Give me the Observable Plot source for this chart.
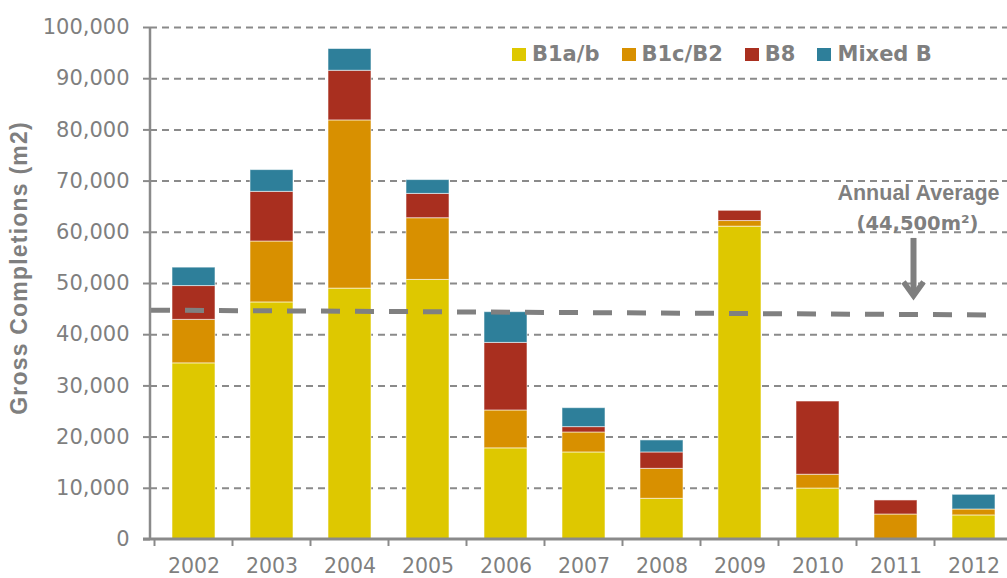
<!DOCTYPE html>
<html>
<head>
<meta charset="utf-8">
<script src="https://cdn.jsdelivr.net/npm/d3@7"></script>
<script src="https://cdn.jsdelivr.net/npm/@observablehq/plot@0.6"></script>
<style>
  body { margin: 0; background: #fff; }
  #wrap { position: relative; width: 1007px; height: 578px; overflow: hidden; background: #fff; }
  #wrap svg { position: absolute; left: 0; top: 0; }
  #legend { position: absolute; left: 512px; top: 42px; display: flex; align-items: center;
            font: bold 21px "DejaVu Sans", sans-serif; color: #7f7f7f; white-space: nowrap; }
  #legend .item { display: flex; align-items: center; margin-right: 22px; }
  #legend .sw { width: 14px; height: 13px; margin-right: 6px; display: inline-block; }
</style>
</head>
<body>
<div id="wrap"><div id="legend"></div></div>
<script>
// ---- data ----
const years = ["2002","2003","2004","2005","2006","2007","2008","2009","2010","2011","2012"];
const series = ["B1a/b", "B1c/B2", "B8", "Mixed B"];
const colors = ["#dec800", "#d89000", "#a92f1f", "#2e7f9a"];
const b1ab   = [34400, 46300, 49000, 50700, 17800, 17000, 7950, 61100,  9950,    0, 4700];
const b1cB2  = [ 8500, 11900, 32850, 12050,  7400,  3900, 5850,  1100,  2700, 4880, 1160];
const b8     = [ 6600,  9700,  9700,  4750, 13200,  1050, 3200,  2000, 14300, 2740,    0];
const mixedB = [ 3600,  4250,  4250,  2700,  6000,  3700, 2350,     0,     0,    0, 2870];
const yTicks = [0, 10000, 20000, 30000, 40000, 50000, 60000, 70000, 80000, 90000, 100000];
const yTitle = "Gross Completions (m2)";
const avgLabel = ["Annual Average", "(44,500m\u00B2)"];
const avgTrend = [44700, 43750];      // dashed average line: value at left edge, at right edge
const arrowVals = [58800, 47100];     // arrow from / to
const labelVals = [66200, 60350];     // label baselines

const valuesBySeries = [b1ab, b1cB2, b8, mixedB];
const data = [];
series.forEach((s, j) => years.forEach((yr, i) => data.push({year: yr, series: s, value: valuesBySeries[j][i]})));

const gray = "#7f7f7f";
const plot = Plot.plot({
  width: 1007, height: 578,
  marginLeft: 150, marginRight: 0, marginTop: 27, marginBottom: 39,
  style: {fontFamily: "DejaVu Sans, sans-serif", fontSize: "21px", color: gray, background: "transparent", overflow: "visible"},
  x: {domain: years, range: [151, 1015], paddingInner: 0.452, paddingOuter: 0.226, label: null},
  y: {domain: [0, 100000], label: null},
  color: {domain: series, range: colors},
  marks: [
    Plot.gridY(yTicks.filter(v => v > 0), {stroke: "#8a8a8a", strokeOpacity: 1, strokeWidth: 2, strokeDasharray: "7,5"}),
    Plot.barY(data, {x: "year", y: "value", fill: "series", stroke: "#ffffff", strokeOpacity: 0.55, strokeWidth: 1}),
    Plot.axisY({ticks: yTicks, tickFormat: d3.format(","), tickSize: 7, tickPadding: 14, label: null, stroke: "#8a8a8a", strokeWidth: 2, fontSize: 21}),
    Plot.axisX({tickSize: 0, tickPadding: 19, label: null, fontSize: 20.5})
  ]
});
document.getElementById("wrap").appendChild(plot);

// ---- extra annotation drawn with the plot's own scales ----
const xs = plot.scale("x"), ys = plot.scale("y");
const X = v => xs.apply(v), Y = v => ys.apply(v);
const bw = xs.bandwidth ?? 43;
const step = xs.step ?? 78.5;
const svg = d3.select(plot);
const left = 150, right = 1007;

// average trend line (drawn over bars)
svg.append("line")
  .attr("x1", left + 1).attr("x2", 1000)
  .attr("y1", Y(avgTrend[0])).attr("y2", Y(avgTrend[1]))
  .attr("stroke", "#808080").attr("stroke-width", 5).attr("stroke-dasharray", "19,15");

// axis lines
svg.append("line").attr("x1", left).attr("x2", left).attr("y1", Y(100000)).attr("y2", Y(0))
  .attr("stroke", "#8a8a8a").attr("stroke-width", 2.5);
svg.append("line").attr("x1", left - 7).attr("x2", right).attr("y1", Y(0)).attr("y2", Y(0))
  .attr("stroke", "#8a8a8a").attr("stroke-width", 3);
// x ticks at band boundaries
svg.append("g").selectAll("line").data(years).join("line")
  .attr("x1", d => X(d) - (step - bw) / 2).attr("x2", d => X(d) - (step - bw) / 2)
  .attr("y1", Y(0)).attr("y2", Y(0) + 7)
  .attr("stroke", "#8a8a8a").attr("stroke-width", 2);

// y title
svg.append("text")
  .attr("transform", `translate(27,${(Y(0) + Y(100000)) / 2 - 15}) rotate(-90)`)
  .attr("text-anchor", "middle")
  .attr("font-family", "Liberation Sans, Arial, sans-serif").attr("font-weight", "bold")
  .attr("font-size", 23).attr("letter-spacing", "1.2px").attr("fill", gray)
  .text(yTitle);

// annotation label and arrow
const cx = X("2011") + bw / 2;
svg.append("text").attr("x", cx + 23).attr("y", Y(labelVals[0])).attr("text-anchor", "middle")
  .attr("font-family", "Liberation Sans, Arial, sans-serif").attr("font-weight", "bold")
  .attr("font-size", 21.5).attr("fill", gray).text(avgLabel[0]);
svg.append("text").attr("x", cx + 22).attr("y", Y(labelVals[1])).attr("text-anchor", "middle")
  .attr("font-family", "DejaVu Sans, sans-serif").attr("font-weight", "bold")
  .attr("font-size", 19.5).attr("fill", gray).text(avgLabel[1]);
const ax = cx + 18;
svg.append("line").attr("x1", ax).attr("x2", ax).attr("y1", Y(arrowVals[0])).attr("y2", Y(arrowVals[1]) - 4)
  .attr("stroke", gray).attr("stroke-width", 6);
svg.append("polyline")
  .attr("points", `${ax - 10},${Y(arrowVals[1]) - 16} ${ax},${Y(arrowVals[1]) - 2} ${ax + 10},${Y(arrowVals[1]) - 16}`)
  .attr("fill", "none").attr("stroke", gray).attr("stroke-width", 5.5).attr("stroke-linejoin", "miter");

// legend
const legend = d3.select("#legend");
series.forEach((s, j) => {
  const item = legend.append("div").attr("class", "item");
  item.append("span").attr("class", "sw").style("background", colors[j]);
  item.append("span").text(s);
});
</script>
</body>
</html>
